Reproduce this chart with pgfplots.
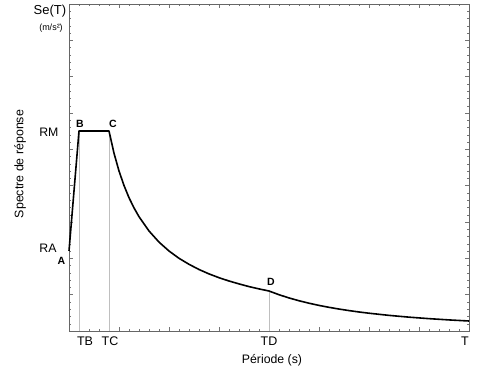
\documentclass[border=0pt]{standalone}
\usepackage{pgfplots}
\pgfplotsset{compat=1.18}
\usepackage{fontspec}
\setmainfont{Liberation Sans}
\begin{document}
\begin{tikzpicture}
\begin{axis}[
  scale only axis,
  width=400pt, height=327pt,
  xmin=0, xmax=400, ymin=0, ymax=327,
  clip=false,
  axis line style={draw=black!60, line width=0.6pt},
  tick pos=both, tick align=inside,
  major tick length=4pt, minor tick length=2pt,
  every tick/.style={draw=black!55, line width=0.4pt},
  xtick={0,50,...,400}, minor x tick num=4,
  ytick={0,36.333,...,327}, minor y tick num=4,
  xticklabels={}, yticklabels={},
]
% reference lines
\addplot[black!25, line width=0.5pt] coordinates {(10,0) (10,200)};
\addplot[black!25, line width=0.5pt] coordinates {(40,0) (40,200)};
\addplot[black!25, line width=0.5pt] coordinates {(200,0) (200,40)};
% spectrum
\addplot[black, line width=1.6pt, line join=round] coordinates {
(0,80) (10,200) (40,200) (45,177.8) (50,160) (55,145.5) (60,133.3) (65,123.1)
(70,114.3) (80,100) (90,88.9) (100,80) (110,72.7) (120,66.7) (130,61.5) (140,57.1)
(150,53.3) (160,50) (170,47.1) (180,44.4) (190,42.1) (200,40)
(210,36.28) (220,33.06) (230,30.25) (240,27.78) (250,25.6) (260,23.67) (270,21.95)
(280,20.41) (290,19.02) (300,17.78) (320,15.63) (340,13.84) (360,12.35)
(380,11.08) (400,10)};
% labels
\node[font=\fontsize{13}{15}\selectfont] at (axis cs:-19,320) {Se(T)};
\node[font=\fontsize{9}{11}\selectfont] at (axis cs:-18,303) {(m/s²)};
\node[font=\fontsize{12.4}{14}\selectfont, rotate=90] at (axis cs:-49,167) {Spectre de réponse};
\node[font=\fontsize{12.3}{14}\selectfont, anchor=east] at (axis cs:-7,199) {RM};
\node[font=\fontsize{12.3}{14}\selectfont, anchor=east] at (axis cs:-9,83) {RA};
\node[font=\bfseries\fontsize{10.5}{12}\selectfont] at (axis cs:-7.5,70) {A};
\node[font=\bfseries\fontsize{10.5}{12}\selectfont] at (axis cs:11,207) {B};
\node[font=\bfseries\fontsize{10.5}{12}\selectfont] at (axis cs:44,207) {C};
\node[font=\bfseries\fontsize{10.5}{12}\selectfont] at (axis cs:202,49) {D};
\node[font=\fontsize{12.5}{14}\selectfont] at (axis cs:16,-10) {TB};
\node[font=\fontsize{12.5}{14}\selectfont] at (axis cs:41,-10) {TC};
\node[font=\fontsize{12.5}{14}\selectfont] at (axis cs:200,-10) {TD};
\node[font=\fontsize{12.5}{14}\selectfont] at (axis cs:396,-10) {T};
\node[font=\fontsize{12.3}{14}\selectfont] at (axis cs:203,-29) {Période (s)};
\coordinate (bbsw) at (axis cs:-69,-35);
\coordinate (bbne) at (axis cs:417,331);
\end{axis}
\pgfresetboundingbox
\path[use as bounding box] (bbsw) rectangle (bbne);
\end{tikzpicture}
\end{document}
